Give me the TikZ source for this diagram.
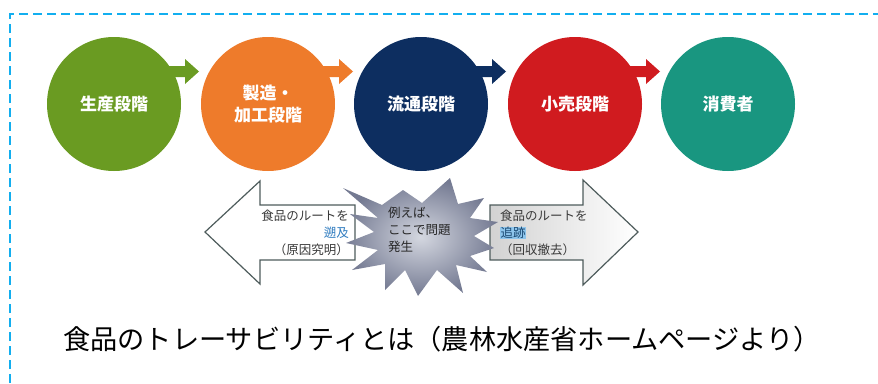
\documentclass[tikz,border=0pt]{standalone}
\usepackage{fontspec}
\newfontfamily\jp{Noto Sans CJK JP}
\usetikzlibrary{calc,shadings}
\definecolor{cgreen}{HTML}{6A9B22}
\definecolor{corange}{HTML}{EE7B2B}
\definecolor{cnavy}{HTML}{0D2E60}
\definecolor{cred}{HTML}{D01B1F}
\definecolor{cteal}{HTML}{199680}
\definecolor{cborder}{HTML}{12AEEF}
\definecolor{coutline}{HTML}{4E5C5C}
\definecolor{ctext}{HTML}{3A3A3A}
\definecolor{cblue}{HTML}{2F7CC0}
\definecolor{chl}{HTML}{8EC5EC}
\definecolor{cburstin}{HTML}{D4D7E0}
\definecolor{cburstout}{HTML}{747A92}
\newcommand\stagearrow[2]{%
  \fill[#2] ($(#1.center)+(40,-38)$) -- ($(#1.center)+(71,-38)$) -- ($(#1.center)+(71,-45)$)
   -- ($(#1.center)+(85,-32.5)$) -- ($(#1.center)+(71,-20)$) -- ($(#1.center)+(71,-27)$)
   -- ($(#1.center)+(40,-27)$) -- cycle;}
\begin{document}
\begin{tikzpicture}[x=1pt,y=-1pt,
  stage/.style={circle,minimum size=134pt,inner sep=0pt,text=white,
    font=\jp\bfseries\fontsize{17}{22}\selectfont,align=center},
  border/.style={draw=cborder,line width=2pt,dash pattern=on 9pt off 5pt},
  bigarrow/.style={draw=coutline,line width=1.2pt,line join=miter},
  small/.style={font=\jp\fontsize{12.5}{17}\selectfont,text=ctext,inner sep=0pt},
  caption/.style={font=\jp\fontsize{27.2}{30}\selectfont,text=black,inner sep=0pt}]
\useasboundingbox (0,0) rectangle (878,383);
\draw[border] (10,383) -- (10,14) -- (878,14);

% stages
\node[stage,fill=cgreen]  (c1) at (114,104) {生産段階};
\node[stage,fill=corange] (c2) at (268,104) {製造・\\加工段階};
\node[stage,fill=cnavy]   (c3) at (421,104) {流通段階};
\node[stage,fill=cred]    (c4) at (575,104) {小売段階};
\node[stage,fill=cteal]   (c5) at (728,104) {消費者};
\stagearrow{c1}{cgreen}
\stagearrow{c2}{corange}
\stagearrow{c3}{cnavy}
\stagearrow{c4}{cred}

% big arrows
\coordinate (ltip) at (205,232);
\coordinate (rtip) at (638,232);
\draw[bigarrow,fill=white] (ltip) -- (260,181) -- (260,205) -- (355,205) -- (355,260)
  -- (260,260) -- (260,284) -- cycle;
\shade[left color=gray!35,right color=white] (rtip) -- (583,180) -- (583,205) -- (490,205)
  -- (490,260) -- (583,260) -- (583,285) -- cycle;
\draw[bigarrow] (rtip) -- (583,180) -- (583,205) -- (490,205)
  -- (490,260) -- (583,260) -- (583,285) -- cycle;

% burst
\shade[inner color=cburstin,outer color=cburstout,draw=none]
 (343,188) -- (382,205) -- (403,190) -- (422,203) -- (450,178) -- (458,204) -- (484,198)
 -- (470,218) -- (498,222) -- (474,236) -- (494,248) -- (470,256) -- (487,272) -- (456,265)
 -- (463,293) -- (437,270) -- (418,296) -- (405,270) -- (385,290) -- (385,264) -- (352,270)
 -- (378,250) -- (346,243) -- (374,232) -- (350,214) -- (378,218) -- cycle;
\node[small,align=left,anchor=west,text=black!85] (burst) at (388,230) {例えば、\\ここで問題\\発生};

% arrow texts
\node[small,align=right,anchor=east] (ltext) at (349,233)
  {食品のルートを\\{\color{cblue}遡及}\\（原因究明）};
\node[small,align=left,anchor=west] (rtext) at (500,233)
  {食品のルートを\\{\setlength{\fboxsep}{0.5pt}\colorbox{chl}{\color{cblue!60!black}追跡}}\\（回収撤去）};

% caption
\node[caption] (cap) at (442,339) {食品のトレーサビリティとは（農林水産省ホームページより）};
\end{tikzpicture}
\end{document}
